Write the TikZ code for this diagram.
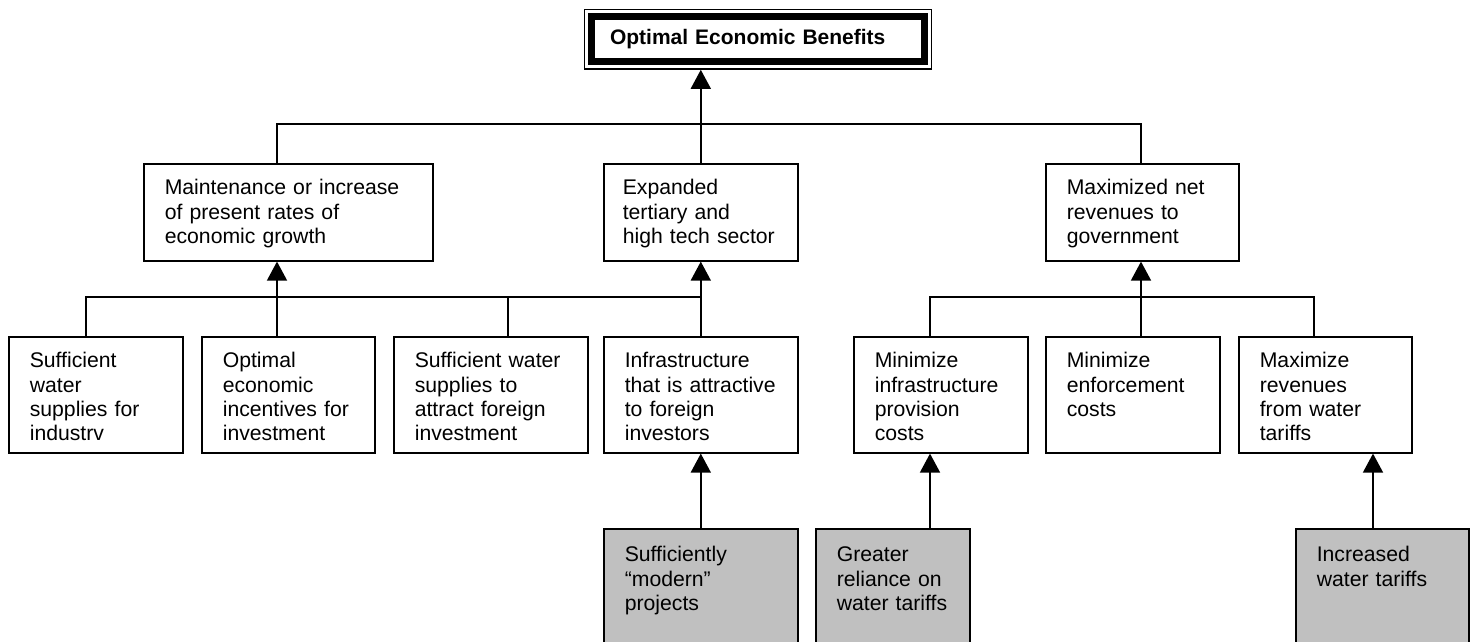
\documentclass[tikz,border=0pt]{standalone}
\usepackage{fontspec}
\setmainfont{Liberation Sans}
\usetikzlibrary{arrows.meta,fit}
\definecolor{leverfill}{RGB}{192,192,192}
\hyphenpenalty=10000

\begin{document}
\begin{tikzpicture}[x=0.5pt, y=-0.5pt, line width=0.8pt,
  every node/.style={font=\fontsize{10.6}{12.15}\selectfont},
  goal/.style={draw, anchor=north west, align=left, inner xsep=10.5pt, inner ysep=0pt, text height=15.5pt},
  lowbox/.style={goal, text depth=42.5pt},
  midbox/.style={goal, text depth=33pt},
  lever/.style={goal, fill=leverfill, text height=16.5pt, text depth=49.5pt},
  arr/.style={-{Triangle[width=10pt,length=9.5pt]}}]
  \useasboundingbox (0,0) rectangle (1474,642);
  \clip (0,0) rectangle (1474,642);
  % top objective with its double frame
  \node[draw, line width=3.5pt, inner xsep=9.25pt, inner ysep=0pt, outer sep=0pt, text width=148pt, align=left,
    minimum height=22.75pt, font=\fontsize{10.5}{12}\selectfont\bfseries] (top) at (758,39.25) {Optimal Economic Benefits};
  \node[draw, fit=(top), inner sep=3.5pt] (frame) {};
  % second level
  \node[midbox, text width=123.5pt] (A) at (143,163) {Maintenance or increase\\of present rates of\\economic growth};
  \node[midbox, inner xsep=9.5pt, text width=78pt] (B) at (603,163) {Expanded\\tertiary and\\high tech sector};
  \node[midbox, text width=75.5pt] (C) at (1045,163) {Maximized net\\revenues to\\government};
  % third level
  \node[lowbox, text width=66pt] (s1) at (8,336) {Sufficient\\water\\supplies for\\industrv};
  \node[lowbox, text width=65.5pt] (s2) at (201,336) {Optimal\\economic\\incentives for\\investment};
  \node[lowbox, text width=76pt] (s3) at (393,336) {Sufficient water\\supplies to\\attract foreign\\investment};
  \node[lowbox, text width=76pt] (s4) at (603,336) {Infrastructure\\that is attractive\\to foreign\\investors};
  \node[lowbox, text width=66pt] (s5) at (853,336) {Minimize\\infrastructure\\provision\\costs};
  \node[lowbox, text width=66pt] (s6) at (1045,336) {Minimize\\enforcement\\costs};
  \node[lowbox, text width=65.5pt] (s7) at (1238,336) {Maximize\\revenues\\from water\\tariffs};
  % means (shaded)
  \node[lever, text width=76pt] (g1) at (603,528) {Sufficiently\\“modern”\\projects};
  \node[lever, text width=56pt] (g2) at (815,528) {Greater\\reliance on\\water tariffs};
  \node[lever, text width=65.5pt] (g3) at (1295,528) {Increased\\water tariffs};
  % bus junctions
  \coordinate (k1) at (277,124);
  \coordinate (k3) at (1141,124);
  \coordinate (j1) at (86,297);
  \coordinate (j2) at (277,297);
  \coordinate (j3) at (508,297);
  \coordinate (j4) at (700,297);
  \coordinate (j5) at (930,297);
  \coordinate (j6) at (1141,297);
  \coordinate (j7) at (1314,297);
  \coordinate (j8) at (1373,528);
  \draw (k1 |- A.north) -- (k1) -- (k3) -- (k3 |- C.north);
  \draw[arr] (B.north) -- (B.north |- frame.south);
  \draw (j1 |- s1.north) -- (j1) -- (j4);
  \draw (j3 |- s3.north) -- (j3);
  \draw[arr] (j2 |- s2.north) -- (j2 |- A.south);
  \draw[arr] (s4.north) -- (B.south);
  \draw (j5 |- s5.north) -- (j5) -- (j7) -- (j7 |- s7.north);
  \draw[arr] (j6 |- s6.north) -- (j6 |- C.south);
  \draw[arr] (g1.north) -- (s4.south);
  \draw[arr] (j5 |- g2.north) -- (j5 |- s5.south);
  \draw[arr] (j8) -- (j8 |- s7.south);
\end{tikzpicture}
\end{document}
